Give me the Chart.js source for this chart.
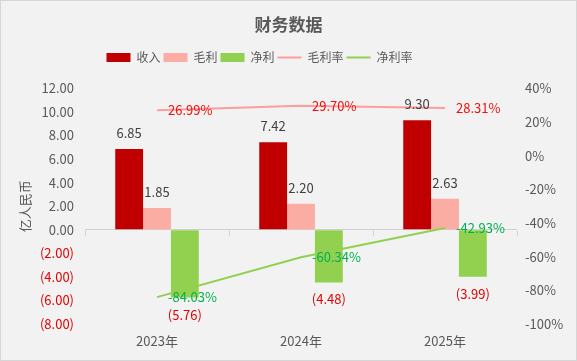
<!DOCTYPE html>
<html>
<head>
<meta charset="utf-8">
<script src="https://cdn.jsdelivr.net/npm/chart.js@4.4.1/dist/chart.umd.min.js"></script>
<style>
  html, body { margin: 0; padding: 0; background: #f2f2f2; }
  #wrap { width: 577px; height: 361px; }
</style>
</head>
<body>
<div id="wrap"><canvas id="finance"></canvas></div>
<script>
// chart data
var categories = ['2023年', '2024年', '2025年'];
var revenue = [6.85, 7.42, 9.30];
var grossProfit = [1.85, 2.20, 2.63];
var netProfit = [-5.76, -4.48, -3.99];
var grossMargin = [26.99, 29.70, 28.31];
var netMargin = [-84.03, -60.34, -42.93];

var FONT = '"Noto Sans CJK SC", "Noto Sans", sans-serif';
var GRAY = '#595959';
var RED = '#e60000';

function money(v) {
    return v < 0 ? '(' + Math.abs(v).toFixed(2) + ')' : v.toFixed(2);
}

// value labels, axis title, zero line ticks and frame
var labelPlugin = {
    id: 'labels',
    afterInit: function (chart) {
        // gap under the legend, and legend sits a bit left of centre
        var lg = chart.legend;
        var fit = lg.fit;
        lg.fit = function () {
            fit.call(this);
            this.height += 15;
        };
        var draw = lg.draw;
        lg.draw = function () {
            this.ctx.save();
            this.ctx.translate(-29, 0);
            draw.call(this);
            this.ctx.restore();
        };
    },
    beforeDatasetsDraw: function (chart) {
        var ctx = chart.ctx, x = chart.scales.x, y = chart.scales.y;
        var y0 = Math.round(y.getPixelForValue(0)) + 0.5;
        ctx.save();
        ctx.strokeStyle = '#d0d0d0';
        ctx.lineWidth = 1;
        var step = x.getPixelForValue(1) - x.getPixelForValue(0);
        for (var i = 0; i <= categories.length; i++) {
            var bx = Math.round(x.getPixelForValue(0) - step / 2 + i * step) + 0.5;
            ctx.beginPath();
            ctx.moveTo(bx, y0);
            ctx.lineTo(bx, y0 + 5);
            ctx.stroke();
        }
        // y axis title
        ctx.translate(25, (chart.chartArea.top + chart.chartArea.bottom) / 2);
        ctx.rotate(-Math.PI / 2);
        ctx.fillStyle = GRAY;
        ctx.font = '13px ' + FONT;
        ctx.textAlign = 'center';
        ctx.textBaseline = 'middle';
        ctx.fillText('亿人民币', 0, 0);
        ctx.restore();
    },
    afterDatasetsDraw: function (chart) {
        var ctx = chart.ctx;
        ctx.save();
        ctx.font = '13px ' + FONT;
        chart.data.datasets.forEach(function (ds, di) {
            var meta = chart.getDatasetMeta(di);
            meta.data.forEach(function (el, i) {
                var v = ds.data[i];
                if (ds.type === 'line') {
                    ctx.fillStyle = ds.labelColor;
                    ctx.textAlign = 'left';
                    ctx.textBaseline = 'middle';
                    ctx.fillText(v.toFixed(2) + '%', el.x + 11, el.y);
                } else {
                    ctx.textAlign = 'center';
                    ctx.textBaseline = 'middle';
                    if (v >= 0) {
                        ctx.fillStyle = '#404040';
                        ctx.fillText(money(v), el.x, el.y - 16);
                    } else {
                        ctx.fillStyle = RED;
                        ctx.fillText(money(v), el.x, el.y + 17);
                    }
                }
            });
        });
        ctx.restore();
    },
    afterDraw: function (chart) {
        var ctx = chart.ctx;
        ctx.save();
        ctx.strokeStyle = '#d6d6d6';
        ctx.strokeRect(0.5, 0.5, chart.width - 1, chart.height - 1);
        ctx.restore();
    }
};

var ctx = document.getElementById('finance').getContext('2d');
var chart = new Chart(ctx, {
    data: {
        labels: categories,
        datasets: [
            { type: 'bar', label: '收入', data: revenue, backgroundColor: '#c00000', yAxisID: 'y', order: 2 },
            { type: 'bar', label: '毛利', data: grossProfit, backgroundColor: '#fbaca3', yAxisID: 'y', order: 2 },
            { type: 'bar', label: '净利', data: netProfit, backgroundColor: '#92d050', yAxisID: 'y', order: 2 },
            { type: 'line', label: '毛利率', data: grossMargin, borderColor: '#ff9d9d', backgroundColor: '#ff9d9d',
              borderWidth: 2, pointRadius: 0, yAxisID: 'y1', labelColor: '#ee1111', order: 1 },
            { type: 'line', label: '净利率', data: netMargin, borderColor: '#92d050', backgroundColor: '#92d050',
              borderWidth: 2, pointRadius: 0, yAxisID: 'y1', labelColor: '#00b050', order: 1 }
        ]
    },
    plugins: [labelPlugin],
    options: {
        responsive: true,
        maintainAspectRatio: false,
        animation: false,
        layout: { padding: 0 },
        datasets: { bar: { categoryPercentage: 0.58, barPercentage: 1.0 } },
        plugins: {
            title: {
                display: true,
                text: '财务数据',
                color: GRAY,
                font: { family: FONT, size: 17, weight: 'bold' },
                padding: { top: 14, bottom: 14 }
            },
            legend: {
                position: 'top',
                labels: {
                    color: GRAY,
                    font: { family: FONT, size: 12 },
                    usePointStyle: true,
                    pointStyleWidth: 24,
                    boxHeight: 9,
                    padding: 3,
                    generateLabels: function (chart) {
                        return chart.data.datasets.map(function (ds, i) {
                            var isLine = ds.type === 'line';
                            return {
                                text: ds.label,
                                fillStyle: ds.backgroundColor,
                                strokeStyle: isLine ? ds.borderColor : ds.backgroundColor,
                                lineWidth: isLine ? 2 : 0,
                                pointStyle: isLine ? 'line' : 'rect',
                                fontColor: GRAY,
                                datasetIndex: i,
                                hidden: false
                            };
                        });
                    }
                }
            },
            tooltip: { enabled: false }
        },
        scales: {
            x: {
                offset: true,
                grid: { display: false, drawTicks: false },
                border: { display: false },
                ticks: { color: GRAY, font: { family: FONT, size: 13 }, padding: 9 },
                afterFit: function (s) { s.height = 37; }
            },
            y: {
                position: 'left',
                min: -8, max: 12,
                ticks: {
                    stepSize: 2,
                    padding: 11,
                    font: { family: FONT, size: 13 },
                    color: function (c) { return c.tick.value < 0 ? RED : GRAY; },
                    callback: function (v) { return money(v); }
                },
                grid: {
                    drawTicks: false,
                    color: function (c) { return c.tick && c.tick.value === 0 ? '#d0d0d0' : 'rgba(0,0,0,0)'; }
                },
                border: { display: false },
                afterFit: function (s) { s.width = 85; }
            },
            y1: {
                position: 'right',
                min: -100, max: 40,
                ticks: {
                    stepSize: 20,
                    padding: 8,
                    color: GRAY,
                    font: { family: FONT, size: 13 },
                    callback: function (v) { return v + '%'; }
                },
                grid: { display: false, drawTicks: false },
                border: { display: false },
                afterFit: function (s) { s.width = 60; }
            }
        }
    }
});
</script>
</body>
</html>
